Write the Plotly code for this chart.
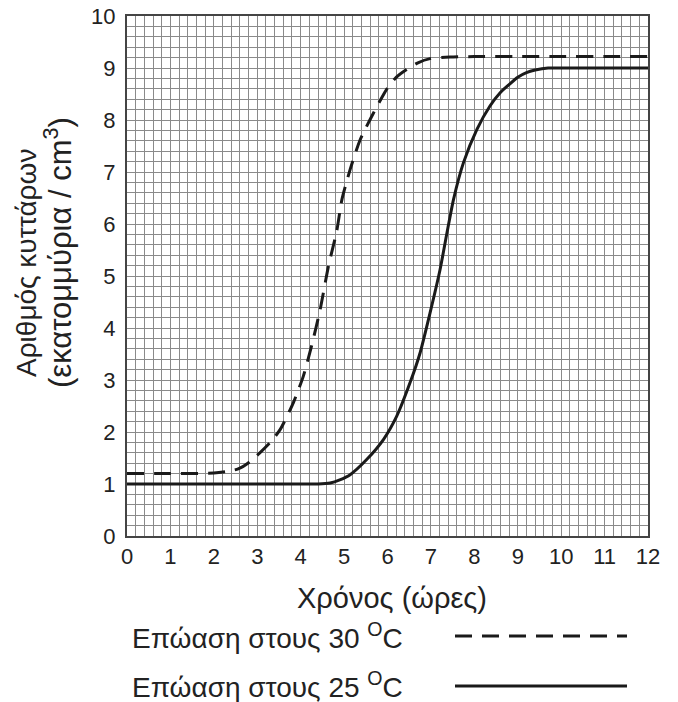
import plotly.graph_objects as go

# Data
x30 = [0, 1.0, 2.0, 2.3, 2.56, 2.8, 3.06, 3.3, 3.53, 3.83, 4.06, 4.25, 4.45, 4.64, 4.83, 4.95,
       5.14, 5.37, 5.68, 5.98, 6.2, 6.44, 6.7, 6.98, 7.44, 8.0, 9.0, 10.0, 11.0, 12.0]
y30 = [1.2, 1.2, 1.21, 1.24, 1.29, 1.41, 1.6, 1.8, 2.05, 2.56, 3.07, 3.65, 4.36, 5.19, 5.86, 6.47,
       7.05, 7.62, 8.14, 8.59, 8.82, 8.97, 9.1, 9.18, 9.21, 9.22, 9.22, 9.22, 9.22, 9.22]

x25 = [0, 1.0, 2.0, 3.0, 4.0, 4.4, 4.68, 4.9, 5.14, 5.52, 5.91, 6.21, 6.52, 6.75, 6.98, 7.21, 7.37,
       7.52, 7.75, 8.06, 8.36, 8.59, 8.8, 9.0, 9.2, 9.4, 9.7, 10.0, 11.0, 12.0]
y25 = [1.0, 1.0, 1.0, 1.0, 1.0, 1.0, 1.02, 1.08, 1.18, 1.47, 1.86, 2.3, 2.95, 3.52, 4.29, 5.12, 5.83,
       6.47, 7.18, 7.82, 8.27, 8.52, 8.68, 8.82, 8.91, 8.96, 9.0, 9.0, 9.0, 9.0]

x_ticks = list(range(0, 13))
y_ticks = list(range(0, 11))

label30 = "Επώαση στους 30 <sup>O</sup>C"
label25 = "Επώαση στους 25 <sup>O</sup>C"
x_title = "Χρόνος (ώρες)"
y_title_1 = "Αριθμός κυττάρων"
y_title_2 = "(εκατομμύρια / cm<sup>3</sup>)"

FONT = "Liberation Sans, Arial, sans-serif"
INK = "#1a1a1a"
TXT = "#222222"
GRID = "#8a8a8a"

W, H = 678, 702
ML, MR, MT, MB = 127, 30, 16, 166

fig = go.Figure()
fig.add_trace(go.Scatter(x=x30, y=y30, mode="lines", name=label30,
                         line=dict(color=INK, width=3, dash="17px,10px", shape="spline", smoothing=0.6),
                         showlegend=False))
fig.add_trace(go.Scatter(x=x25, y=y25, mode="lines", name=label25,
                         line=dict(color=INK, width=3, shape="spline", smoothing=0.6),
                         showlegend=False))

axis_common = dict(
    showgrid=True, gridcolor=GRID, gridwidth=1,
    minor=dict(showgrid=True, gridcolor=GRID, gridwidth=1),
    showline=True, linecolor="#444444", linewidth=2, mirror=True,
    ticks="", zeroline=False, automargin=False,
    tickfont=dict(family=FONT, size=22, color=TXT),
)

fig.update_xaxes(range=[0, 12], tickvals=x_ticks, ticktext=[str(v) for v in x_ticks],
                 minor_dtick=0.2, ticklabelstandoff=0, **axis_common)
fig.update_yaxes(range=[0, 10], tickvals=y_ticks, ticktext=[str(v) for v in y_ticks],
                 minor_dtick=0.2, ticklabelstandoff=5, **axis_common)

plot_w = W - ML - MR
plot_h = H - MT - MB


def px_to_paper(px, py):
    return (px - ML) / plot_w, (H - MB - py) / plot_h


ann = []
xp, yp = px_to_paper(392, 598)
ann.append(dict(text=x_title, x=xp, y=yp, xref="paper", yref="paper", showarrow=False,
                xanchor="center", yanchor="middle", font=dict(family=FONT, size=29, color=TXT)))
for txt, cx, cy, fs in [(y_title_1, 26, 263, 28), (y_title_2, 58, 253, 31)]:
    xp, yp = px_to_paper(cx, cy)
    ann.append(dict(text=txt, x=xp, y=yp, xref="paper", yref="paper", showarrow=False,
                    textangle=-90, xanchor="center", yanchor="middle", align="center",
                    font=dict(family=FONT, size=fs, color=TXT)))
for lab, py in [(label30, 636), (label25, 685)]:
    xp, yp = px_to_paper(130, py)
    ann.append(dict(text=lab, x=xp, y=yp, xref="paper", yref="paper", showarrow=False,
                    xanchor="left", yanchor="middle", font=dict(family=FONT, size=28, color=TXT)))

shapes = []
for dash, py in [("17px,10px", 636), ("solid", 686)]:
    x0, y0 = px_to_paper(455, py)
    x1, _ = px_to_paper(627, py)
    shapes.append(dict(type="line", xref="paper", yref="paper", x0=x0, x1=x1, y0=y0, y1=y0,
                       line=dict(color=INK, width=3, dash=dash)))

fig.update_layout(
    width=W, height=H,
    margin=dict(l=ML, r=MR, t=MT, b=MB, autoexpand=False),
    paper_bgcolor="white", plot_bgcolor="white",
    showlegend=False,
    annotations=ann,
    shapes=shapes,
)

fig.write_html("out.html", config={"displayModeBar": False},
               post_script="document.body.style.margin='0';")
